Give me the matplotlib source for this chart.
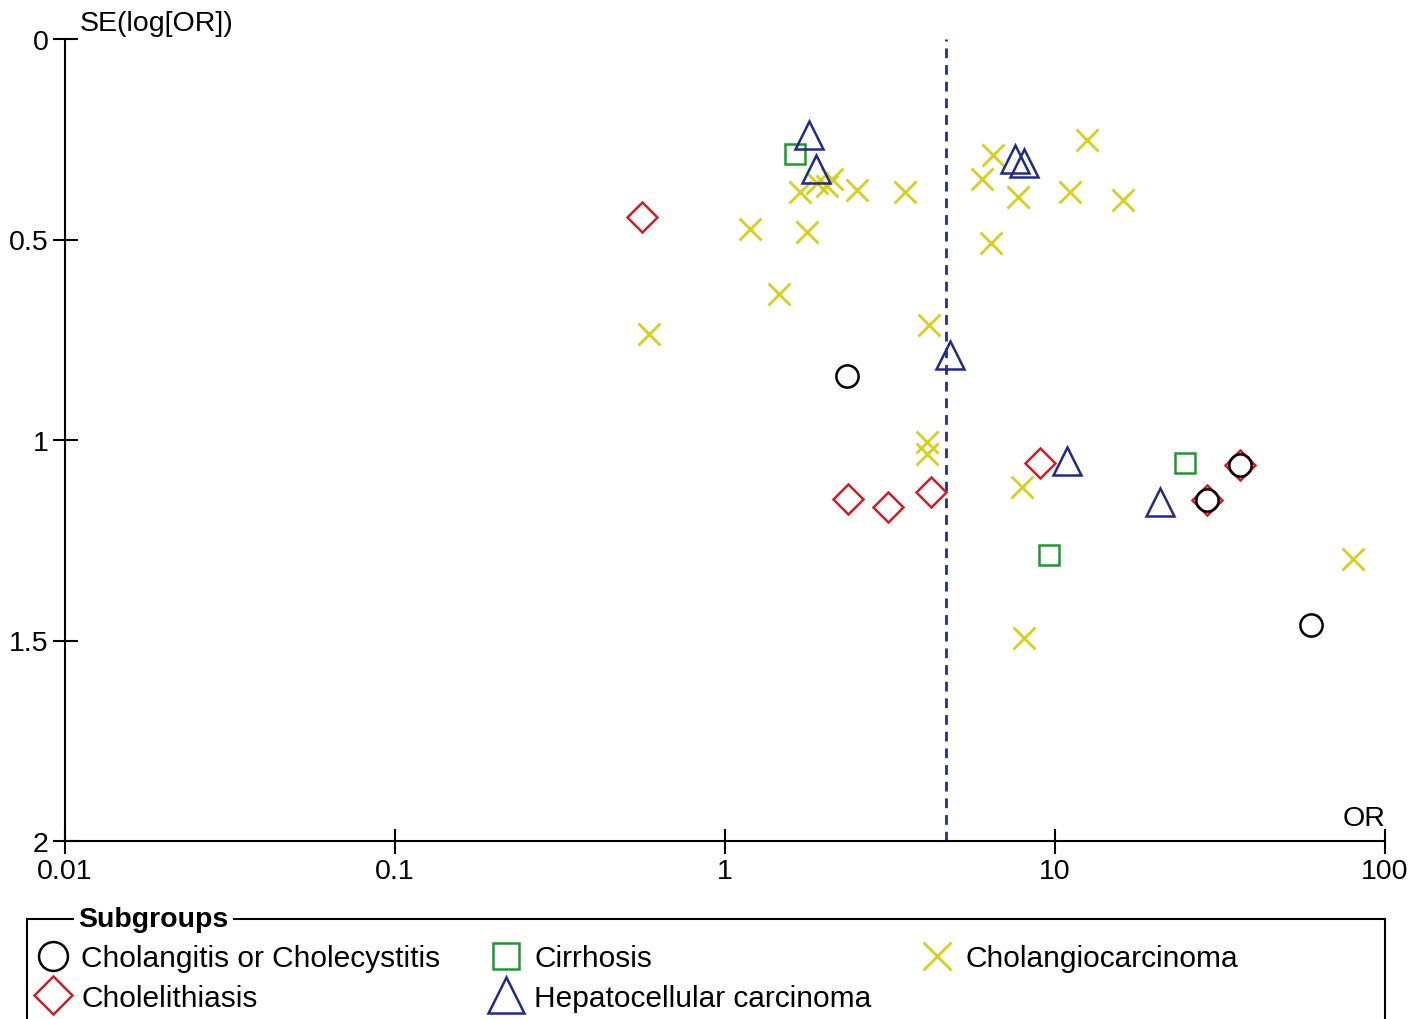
import matplotlib
matplotlib.use('Agg')
import matplotlib.pyplot as plt
from matplotlib.patches import Rectangle

plt.rcParams['font.family'] = ['Liberation Sans', 'DejaVu Sans']

# Data: odds ratio (OR) and SE(log[OR]) for each subgroup
chol_or = [2.34, 59.7, 28.9, 36.4]
chol_se = [0.840, 1.461, 1.150, 1.062]

lith_or = [0.56, 2.36, 3.12, 4.21, 9.01, 28.9, 36.4]
lith_se = [0.444, 1.147, 1.167, 1.130, 1.057, 1.150, 1.062]

cirr_or = [1.63, 24.8, 9.59]
cirr_se = [0.287, 1.057, 1.287]

hcc_or = [1.80, 1.89, 7.57, 8.05, 4.81, 10.9, 20.8]
hcc_se = [0.239, 0.324, 0.299, 0.309, 0.788, 1.052, 1.155]

cca_or = [12.5, 6.49, 6.01, 7.72, 11.1, 16.1, 6.40, 3.51, 2.51, 1.69, 1.90,
          2.04, 2.11, 1.19, 1.77, 1.46, 0.589, 4.15, 4.09, 4.09, 7.94, 8.05, 80.0]
cca_se = [0.252, 0.289, 0.349, 0.394, 0.382, 0.401, 0.509, 0.382, 0.377, 0.382, 0.359,
          0.367, 0.349, 0.474, 0.481, 0.636, 0.736, 0.713, 1.005, 1.035, 1.117, 1.494, 1.297]

pooled_or = 4.67

xticks = [0.01, 0.1, 1, 10, 100]
xtick_labels = ['0.01', '0.1', '1', '10', '100']
yticks = [0, 0.5, 1, 1.5, 2]
ytick_labels = ['0', '0.5', '1', '1.5', '2']

FS = 20.5

fig = plt.figure(figsize=(14.27, 10.2), dpi=100)
ax = fig.add_axes([65 / 1427, 1 - 842 / 1020, 1320 / 1427, 802 / 1020])

ax.axvline(pooled_or, color='#23308a', lw=2, ls=(0, (3.5, 2.5)), zorder=1)

ax.plot(cca_or, cca_se, 'x', color='#d8cf1a', ms=16, mew=2, label='Cholangiocarcinoma', zorder=2)
ax.plot(cirr_or, cirr_se, 's', mfc='none', mec='#1a9a2a', ms=14, mew=1.8, label='Cirrhosis', zorder=3)
ax.plot(hcc_or, hcc_se, '^', mfc='none', mec='#1f2a8a', ms=20, mew=1.8, label='Hepatocellular carcinoma', zorder=3)
ax.plot(lith_or, lith_se, 'D', mfc='none', mec='#c8202a', ms=15, mew=1.8, label='Cholelithiasis', zorder=3)
ax.plot(chol_or, chol_se, 'o', mfc='none', mec='black', ms=16, mew=1.8, label='Cholangitis or Cholecystitis', zorder=4)

ax.set_xscale('log')
ax.set_xlim(0.01, 100)
ax.set_ylim(2, 0)
ax.set_xticks(xticks)
ax.set_xticklabels(xtick_labels)
ax.set_yticks(yticks)
ax.set_yticklabels(ytick_labels)
ax.minorticks_off()
ax.tick_params(direction='inout', length=18, width=1.5, labelsize=FS, pad=3)

for s in ['top', 'right']:
    ax.spines[s].set_visible(False)
for s in ['left', 'bottom']:
    ax.spines[s].set_linewidth(1.5)

ax.text(0.011, 1.004, 'SE(log[OR])', transform=ax.transAxes, fontsize=FS, va='bottom', ha='left')
ax.text(1.0, 0.012, 'OR', transform=ax.transAxes, fontsize=FS, va='bottom', ha='right')

# Legend box
fig.patches.append(Rectangle((27 / 1427, -0.02), 1358 / 1427, 1 - 920 / 1020 + 0.02,
                             transform=fig.transFigure, fill=False, ec='black', lw=1.5))
fig.text(78 / 1427, 1 - 920 / 1020, 'Subgroups', fontsize=FS, fontweight='bold', va='center',
         ha='left', bbox=dict(fc='white', ec='none', pad=3))

h, l = ax.get_legend_handles_labels()
order = [4, 3, 1, 2, 0]
leg = fig.legend([h[i] for i in order], [l[i] for i in order], ncol=3, frameon=False,
                 loc='upper left', bbox_to_anchor=(38 / 1427, 1 - 945 / 1020),
                 fontsize=21.5, markerscale=1.3, handlelength=1.0, handletextpad=0.45,
                 columnspacing=1.7, labelspacing=0.4, borderaxespad=0, borderpad=0)

plt.savefig('out.png', dpi=100)
